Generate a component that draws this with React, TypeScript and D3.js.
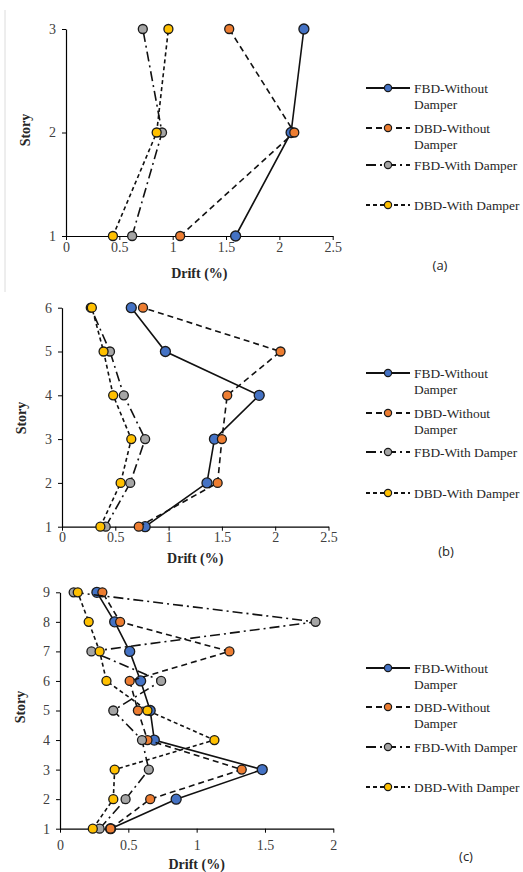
import { useEffect, useRef } from 'react';
import * as d3 from 'd3';

// Story levels for each building
const storiesA = [1, 2, 3];
const storiesB = [1, 2, 3, 4, 5, 6];
const storiesC = [1, 2, 3, 4, 5, 6, 7, 8, 9];

// (a) 3-story drift (%)
const fbdWithoutA = [1.59, 2.11, 2.23];
const dbdWithoutA = [1.07, 2.14, 1.53];
const fbdWithA = [0.62, 0.9, 0.72];
const dbdWithA = [0.44, 0.85, 0.96];

// (b) 6-story drift (%)
const fbdWithoutB = [0.78, 1.36, 1.43, 1.85, 0.97, 0.65];
const dbdWithoutB = [0.72, 1.46, 1.5, 1.55, 2.05, 0.76];
const fbdWithB = [0.41, 0.64, 0.78, 0.58, 0.45, 0.27];
const dbdWithB = [0.36, 0.55, 0.65, 0.48, 0.39, 0.28];

// (c) 9-story drift (%)
const fbdWithoutC = [0.37, 0.85, 1.48, 0.69, 0.66, 0.59, 0.51, 0.4, 0.27];
const dbdWithoutC = [0.37, 0.66, 1.33, 0.64, 0.57, 0.51, 1.24, 0.44, 0.31];
const fbdWithC = [0.29, 0.48, 0.65, 0.6, 0.39, 0.74, 0.23, 1.87, 0.1];
const dbdWithC = [0.24, 0.39, 0.4, 1.13, 0.64, 0.34, 0.29, 0.21, 0.13];

const xTicksAB = [0, 0.5, 1, 1.5, 2, 2.5];
const xTicksC = [0, 0.5, 1, 1.5, 2];

const legendLabels = [
  ['FBD-Without', 'Damper'],
  ['DBD-Without', 'Damper'],
  ['FBD-With Damper'],
  ['DBD-With Damper'],
];
const panelTags = ['(a)', '(b)', '(c)'];

const SERIF = '"Liberation Serif", "Times New Roman", serif';

const seriesStyle = [
  { fill: '#4472c4', dash: null as string | null, r: 5 },
  { fill: '#ed7d31', dash: '6,4', r: 4.5 },
  { fill: '#a5a5a5', dash: '10,4,2,4', r: 4.5 },
  { fill: '#ffc000', dash: '4,3', r: 4.5 },
];

interface Panel {
  stories: number[];
  values: number[][];
  xMax: number;
  ticks: number[];
  x0: number;
  x1: number;
  yTop: number;
  yBottom: number;
  tickPad: number;
  storyPos: [number, number];
  driftY: number;
  legendY: number[];
  tagPos: [number, number];
}

const panels: Panel[] = [
  {
    stories: storiesA, values: [fbdWithoutA, dbdWithoutA, fbdWithA, dbdWithA],
    xMax: 2.5, ticks: xTicksAB, x0: 66, x1: 332.7, yTop: 29, yBottom: 236, tickPad: 2,
    storyPos: [27, 130], driftY: 278, legendY: [88, 128, 165, 205], tagPos: [440, 267],
  },
  {
    stories: storiesB, values: [fbdWithoutB, dbdWithoutB, fbdWithB, dbdWithB],
    xMax: 2.5, ticks: xTicksAB, x0: 62, x1: 328.5, yTop: 307.7, yBottom: 526.7, tickPad: 1,
    storyPos: [23, 418], driftY: 563, legendY: [373, 413, 452, 493], tagPos: [446, 553],
  },
  {
    stories: storiesC, values: [fbdWithoutC, dbdWithoutC, fbdWithC, dbdWithC],
    xMax: 2, ticks: xTicksC, x0: 60, x1: 333.3, yTop: 592.3, yBottom: 828.7, tickPad: 7,
    storyPos: [22, 707], driftY: 869, legendY: [668, 707, 747, 787], tagPos: [466, 858],
  },
];

function drawPanel(svg: d3.Selection<SVGSVGElement, unknown, null, undefined>, p: Panel, idx: number) {
  const g = svg.append('g');

  const x = d3.scaleLinear().domain([0, p.xMax]).range([p.x0, p.x1]);
  const y = d3.scaleLinear().domain([1, p.stories.length]).range([p.yBottom, p.yTop]);

  // X axis
  const xAxis = g.append('g')
    .attr('transform', `translate(0,${p.yBottom})`)
    .call(d3.axisBottom(x).tickValues(p.ticks).tickSize(4).tickSizeOuter(0).tickPadding(p.tickPad)
      .tickFormat(d => d3.format('~g')(d as number)));

  // Y axis
  const yAxis = g.append('g')
    .attr('transform', `translate(${p.x0},0)`)
    .call(d3.axisLeft(y).tickValues(p.stories).tickSize(4).tickSizeOuter(0).tickPadding(6)
      .tickFormat(d3.format('d')));

  [xAxis, yAxis].forEach(a => {
    a.select('.domain').attr('stroke', '#000').attr('stroke-width', 1.2);
    a.selectAll('.tick line').attr('stroke', '#000');
    a.selectAll('text')
      .attr('font-family', SERIF)
      .attr('font-size', 14)
      .attr('fill', '#404040');
  });

  // Series lines then markers
  const line = d3.line<number>()
    .x(v => x(v))
    .y((_, i) => y(p.stories[i]));

  p.values.forEach((vals, si) => {
    const st = seriesStyle[si];
    g.append('path')
      .attr('d', line(vals))
      .attr('fill', 'none')
      .attr('stroke', '#111')
      .attr('stroke-width', 1.6)
      .attr('stroke-dasharray', st.dash);

    g.selectAll(`.m${si}`)
      .data(vals)
      .enter()
      .append('circle')
      .attr('cx', v => x(v))
      .attr('cy', (_, i) => y(p.stories[i]))
      .attr('r', st.r)
      .attr('fill', st.fill)
      .attr('stroke', '#1a1a1a')
      .attr('stroke-width', 1.3);
  });

  // Axis titles
  g.append('text')
    .attr('transform', `translate(${p.storyPos[0]},${p.storyPos[1]}) rotate(-90)`)
    .attr('text-anchor', 'middle')
    .attr('dominant-baseline', 'middle')
    .attr('font-family', SERIF)
    .attr('font-size', 14)
    .attr('font-weight', 'bold')
    .attr('fill', '#262626')
    .text('Story');

  g.append('text')
    .attr('x', (p.x0 + p.x1) / 2)
    .attr('y', p.driftY)
    .attr('text-anchor', 'middle')
    .attr('font-family', SERIF)
    .attr('font-size', 14)
    .attr('font-weight', 'bold')
    .attr('fill', '#262626')
    .text('Drift (%)');

  // Legend
  legendLabels.forEach((lines, si) => {
    const st = seriesStyle[si];
    const ly = p.legendY[si];
    g.append('line')
      .attr('x1', 366).attr('x2', 410)
      .attr('y1', ly).attr('y2', ly)
      .attr('stroke', '#111')
      .attr('stroke-width', 1.8)
      .attr('stroke-dasharray', st.dash);
    g.append('circle')
      .attr('cx', 388).attr('cy', ly).attr('r', 3.6)
      .attr('fill', st.fill)
      .attr('stroke', '#1a1a1a')
      .attr('stroke-width', 1.2);
    lines.forEach((t, li) => {
      g.append('text')
        .attr('x', 414)
        .attr('y', ly + 5 + li * 16)
        .attr('font-family', SERIF)
        .attr('font-size', 13.4)
        .attr('fill', '#262626')
        .text(t);
    });
  });

  // Panel tag
  g.append('text')
    .attr('x', p.tagPos[0])
    .attr('y', p.tagPos[1])
    .attr('text-anchor', 'middle')
    .attr('dominant-baseline', 'middle')
    .attr('font-family', '"Open Sans", sans-serif')
    .attr('font-size', 13)
    .attr('fill', '#262626')
    .text(panelTags[idx]);
}

export default function App() {
  const svgRef = useRef<SVGSVGElement>(null);

  useEffect(() => {
    if (!svgRef.current) return;
    document.body.style.margin = '0';
    const svg = d3.select(svgRef.current);
    svg.selectAll('*').remove();

    // faint frame left of the first figure
    svg.append('line')
      .attr('x1', 5).attr('x2', 5).attr('y1', 10).attr('y2', 292)
      .attr('stroke', '#dcdcdc').attr('stroke-width', 1);

    panels.forEach((p, i) => drawPanel(svg, p, i));
  }, []);

  return <svg ref={svgRef} width={523} height={872} style={{ display: 'block', background: '#fff' }} />;
}
